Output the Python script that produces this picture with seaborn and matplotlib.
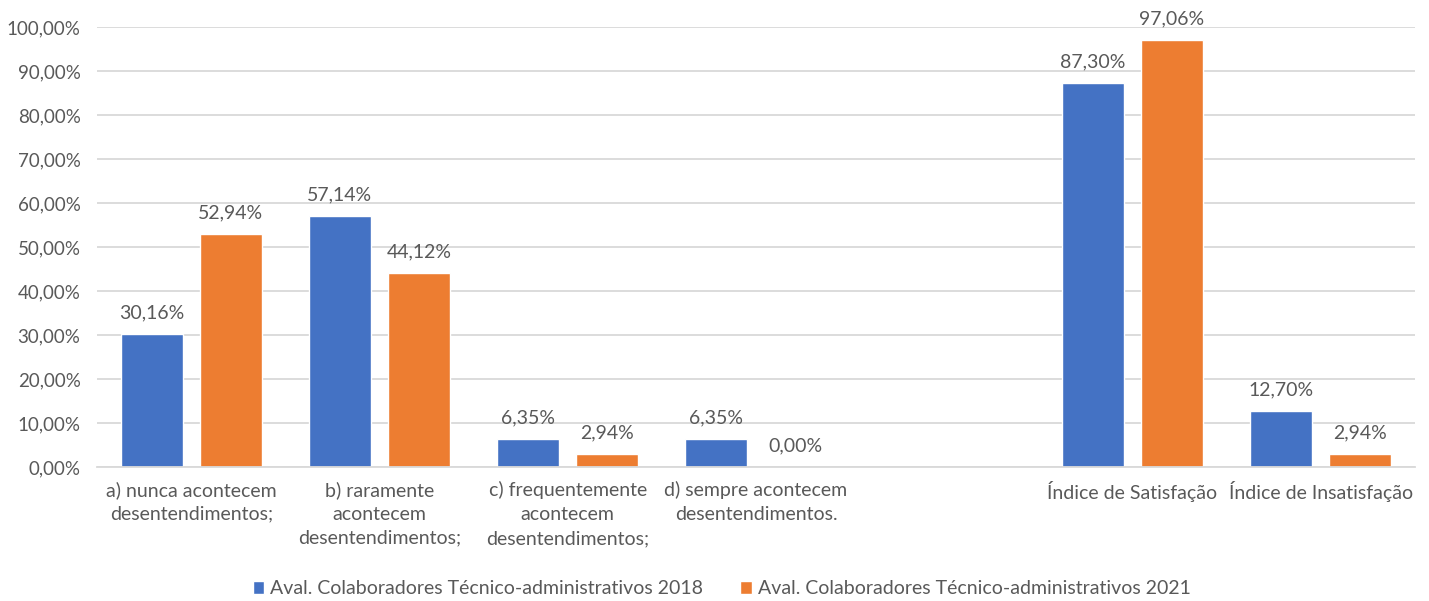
import matplotlib
matplotlib.use("Agg")
import matplotlib.pyplot as plt
import seaborn as sns
import numpy as np
import pandas as pd

categories = [
    "a) nunca acontecem\ndesentendimentos;",
    "b) raramente\nacontecem\ndesentendimentos;",
    "c) frequentemente\nacontecem\ndesentendimentos;",
    "d) sempre acontecem\ndesentendimentos.",
    " ",
    "Índice de Satisfação",
    "Índice de Insatisfação",
]
series_names = [
    "Aval. Colaboradores Técnico-administrativos 2018",
    "Aval. Colaboradores Técnico-administrativos 2021",
]
values_2018 = [30.16, 57.14, 6.35, 6.35, np.nan, 87.30, 12.70]
values_2021 = [52.94, 44.12, 2.94, 0.00, np.nan, 97.06, 2.94]
y_ticks = [0, 10, 20, 30, 40, 50, 60, 70, 80, 90, 100]
colors = ["#4472C4", "#ED7D31"]

rows = []
for c, v1, v2 in zip(categories, values_2018, values_2021):
    rows.append({"cat": c, "serie": series_names[0], "val": v1})
    rows.append({"cat": c, "serie": series_names[1], "val": v2})
df = pd.DataFrame(rows)

sns.set_theme(style="white")
plt.rcParams["font.family"] = ["Lato", "DejaVu Sans"]
text_color = "#595959"

fig = plt.figure(figsize=(14.29, 6.01), dpi=100)
ax = fig.add_axes([0.068, 0.223, 0.922, 0.732])

sns.barplot(data=df, x="cat", y="val", hue="serie", order=categories,
            hue_order=series_names, palette=colors, width=0.84, gap=0.215,
            errorbar=None, ax=ax, saturation=1, legend=True)

ax.set_ylim(0, 100)
ax.set_xlim(-0.5, len(categories) - 0.5)
ax.set_yticks(y_ticks)
ax.set_yticklabels([f"{t:.2f}%".replace(".", ",") for t in y_ticks],
                   fontsize=13.5, color=text_color)
ax.set_xticks(range(len(categories)))
ax.set_xticklabels(categories, fontsize=14, color=text_color, linespacing=1.5)
ax.tick_params(axis="x", length=0, pad=10)
ax.tick_params(axis="y", length=0, pad=12)
ax.set_xlabel("")
ax.set_ylabel("")
ax.yaxis.grid(True, color="#d9d9d9", linewidth=1.3)
ax.set_axisbelow(True)
for s in ["left", "right", "top"]:
    ax.spines[s].set_visible(False)
ax.spines["bottom"].set_color("#d9d9d9")
ax.spines["bottom"].set_linewidth(1.3)

for cont in ax.containers:
    labels = []
    for v in cont.datavalues:
        labels.append("" if np.isnan(v) else f"{v:.2f}%".replace(".", ","))
    ax.bar_label(cont, labels=labels, padding=9, fontsize=14, color=text_color)

handles, labs = ax.get_legend_handles_labels()
ax.get_legend().remove()
leg = fig.legend(handles, labs, loc="center", bbox_to_anchor=(0.505, 0.02), ncol=2,
                 frameon=False, fontsize=14, handlelength=0.6, handleheight=0.6,
                 columnspacing=1.9, handletextpad=0.3)
for t in leg.get_texts():
    t.set_color(text_color)

fig.savefig("out.png", dpi=100)
